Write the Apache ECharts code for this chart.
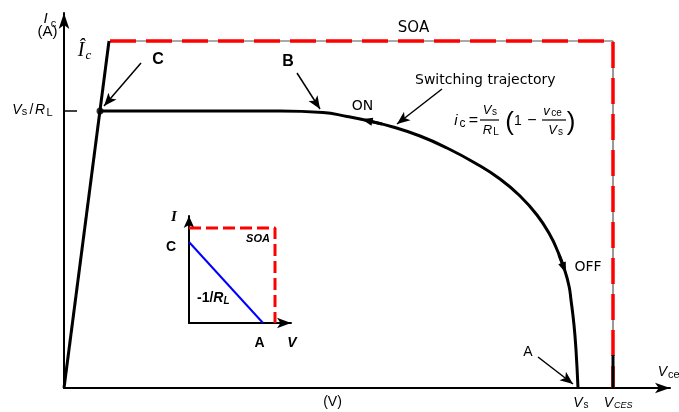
<!DOCTYPE html>
<html><head><meta charset="utf-8">
<script src="https://cdn.jsdelivr.net/npm/echarts@6/dist/echarts.min.js"></script>
<style>html,body{margin:0;padding:0;background:#fff}#c{width:679px;height:412px}</style>
</head><body><div id="c"></div>
<script>
// ---- main diagram (x: v_ce, y: i_c, arbitrary units) ----
const saturationLine = [[0,0],[45,347]];
const switchingTrajectory = [[36,277],[150,277],[216,277],[259,275.5],[283,271.5],[303,267.5],[329,261],[356,252],[383,240],[411,225],[436,209],[456,192],[473,173],[486,153],[494,136],[500,120],[505,102],[507,88],[510,63],[512,38],[514,0]];
const soaBoundary = [[46,347],[549,347],[549,0]];
const vcesBase = [[549,0],[549,33]];
const vsRlTick = [[0,277],[13,277]];
const pointC = [[36,277]];
const pointerFrom = [[77,325],[233,315],[378,299],[474,31]];
const pointerTo   = [[40,282],[256,279],[333,264],[509,4]];
const dirFrom = [[318,264],[495,133]];
const dirTo   = [[303,267.5],[500,120]];
// ---- inset ----
const insetSOA = [[0,95],[86,95],[86,0]];
const insetLoadLine = [[0,81],[74,0]];

const chart = echarts.init(document.getElementById('c'), null, {renderer:'canvas'});

function txt(s, x, y, font, align){
  return {type:'text', x:x, y:y, silent:true, z:100,
    style:{text:s, font:font, fill:'#000', align:align||'center', verticalAlign:'middle'}};
}
function hline(x1,x2,y){
  return {type:'line', silent:true, z:100, shape:{x1:x1,y1:y,x2:x2,y2:y}, style:{stroke:'#000', lineWidth:1.2}};
}
const SANS = 'Liberation Sans';
const graphics = [
  // y axis label
  txt('I', 45.5, 18.5, 'italic 15px '+SANS),
  txt('c', 53.5, 24, '11px '+SANS),
  txt('(A)', 47.5, 32, '15px '+SANS),
  // I hat c
  txt('Î', 81, 51, 'italic 20px "Liberation Serif"'),
  txt('c', 88.5, 55.5, 'italic 13px "Liberation Serif"'),
  // Vs/RL
  txt('V', 17, 110, 'italic 14px '+SANS),
  txt('s', 24.5, 112, '11px '+SANS),
  txt('/', 31.5, 110, '14px '+SANS),
  txt('R', 40, 110, 'italic 14px '+SANS),
  txt('L', 49.5, 112.5, '11px '+SANS),
  // point labels
  txt('C', 158, 60, 'bold 16px '+SANS),
  txt('B', 288, 62, 'bold 16px '+SANS),
  txt('A', 528, 352.5, '14px '+SANS),
  txt('SOA', 413.5, 28.5, '15px "DejaVu Sans"'),
  txt('Switching trajectory', 415, 80, '14px "DejaVu Sans"', 'left'),
  txt('ON', 362.5, 106.5, '14px "DejaVu Sans"'),
  txt('OFF', 588, 267.5, '14px "DejaVu Sans"'),
  // formula
  txt('i', 456, 121, 'italic 15px '+SANS),
  txt('c', 462.5, 124, '12px '+SANS),
  txt('=', 473.5, 120.5, '16px '+SANS),
  txt('V', 487, 110.5, 'italic 13px '+SANS),
  txt('s', 494.5, 112.5, '10px '+SANS),
  hline(480, 499, 120),
  txt('R', 487.5, 130.5, 'italic 13px '+SANS),
  txt('L', 496, 132.5, '10px '+SANS),
  txt('(', 509.5, 123, '26px '+SANS),
  txt('1', 518, 121, '14px '+SANS),
  txt('\u2212', 532, 121, '16px '+SANS),
  txt('v', 546.5, 111, 'italic 13px '+SANS),
  txt('ce', 556.5, 113, '10px '+SANS),
  hline(542, 566, 120),
  txt('V', 552.5, 130.5, 'italic 13px '+SANS),
  txt('s', 560.5, 132.5, '10px '+SANS),
  txt(')', 571, 123, '26px '+SANS),
  // x axis labels
  txt('(V)', 332.5, 402, '14px '+SANS),
  txt('V', 578, 403, 'italic 14px '+SANS),
  txt('s', 586, 405.5, '10px '+SANS),
  txt('V', 608.5, 403, 'italic 14px '+SANS),
  txt('CES', 614, 405, 'italic 9px '+SANS, 'left'),
  txt('V', 662.5, 372, 'italic 14px '+SANS),
  txt('ce', 668, 374.5, '11px '+SANS, 'left'),
  // inset labels
  txt('I', 174, 217, 'bold italic 15px "Liberation Serif"'),
  txt('C', 171, 247, 'bold 14px '+SANS),
  txt('SOA', 258, 239, 'bold italic 11px '+SANS),
  txt('-1/', 197, 298, 'bold 14px '+SANS, 'left'),
  txt('R', 213.3, 298, 'bold italic 14px '+SANS, 'left'),
  txt('L', 223.4, 301, 'bold italic 10px '+SANS, 'left'),
  txt('A', 259.5, 343, 'bold 14px '+SANS),
  txt('V', 292, 343, 'bold italic 14px '+SANS)
];

function axisPair(idx, max, arrow, lw){
  return {
    gridIndex: idx, type:'value', min:0, max:max,
    axisLine:{show:true, onZero:true, symbol:['none','arrow'], symbolSize:arrow, lineStyle:{color:'#000', width:lw}},
    axisTick:{show:false}, axisLabel:{show:false}, splitLine:{show:false}
  };
}

const option = {
  animation:false,
  backgroundColor:'#fff',
  grid:[
    {left:64, top:13, width:606, height:375},
    {left:189, top:216, width:102, height:107}
  ],
  xAxis:[ axisPair(0, 606, [8,15], 2), axisPair(1, 102, [8,14], 2) ],
  yAxis:[ axisPair(0, 375, [8,16], 2), axisPair(1, 107, [8,12], 2) ],
  graphic: graphics,
  series:[
    {type:'line', xAxisIndex:0, yAxisIndex:0, data:soaBoundary, symbol:'none', silent:true, z:1,
      lineStyle:{color:'#555', width:1.2}},
    {type:'line', xAxisIndex:0, yAxisIndex:0, data:soaBoundary, symbol:'none', silent:true, z:2,
      lineStyle:{color:'#ff0000', width:3.5, type:[26,10], cap:'butt'}},
    {type:'line', xAxisIndex:0, yAxisIndex:0, data:vcesBase, symbol:'none', silent:true, z:3,
      lineStyle:{color:'#000', width:3}},
    {type:'line', xAxisIndex:0, yAxisIndex:0, data:saturationLine, symbol:'none', silent:true, z:3,
      lineStyle:{color:'#000', width:3}},
    {type:'line', xAxisIndex:0, yAxisIndex:0, data:switchingTrajectory, symbol:'none', smooth:0.5, silent:true, z:3,
      lineStyle:{color:'#000', width:3}},
    {type:'line', xAxisIndex:0, yAxisIndex:0, data:vsRlTick, symbol:'none', silent:true, z:3,
      lineStyle:{color:'#000', width:1.5}},
    {type:'scatter', xAxisIndex:0, yAxisIndex:0, data:pointC, symbol:'circle', symbolSize:7, silent:true, z:4,
      itemStyle:{color:'#000'}},
    {type:'lines', coordinateSystem:'cartesian2d', xAxisIndex:0, yAxisIndex:0, silent:true, z:5,
      symbol:['none','arrow'], symbolSize:[[2,2],[8,13]],
      lineStyle:{color:'#000', width:1.5, opacity:1, curveness:0},
      data: pointerFrom.map((f,i)=>({coords:[f, pointerTo[i]]}))},
    {type:'lines', coordinateSystem:'cartesian2d', xAxisIndex:0, yAxisIndex:0, silent:true, z:5,
      symbol:['none','triangle'], symbolSize:[[2,2],[8,11]],
      lineStyle:{color:'#000', width:3, opacity:1, curveness:0},
      data: dirFrom.map((f,i)=>({coords:[f, dirTo[i]]}))},
    // inset
    {type:'line', xAxisIndex:1, yAxisIndex:1, data:insetSOA, symbol:'none', silent:true, z:3,
      lineStyle:{color:'#ff0000', width:3, type:[12,5]}},
    {type:'line', xAxisIndex:1, yAxisIndex:1, data:insetLoadLine, symbol:'none', silent:true, z:3,
      lineStyle:{color:'#0000ff', width:2}}
  ]
};
chart.setOption(option);
</script>
</body></html>
